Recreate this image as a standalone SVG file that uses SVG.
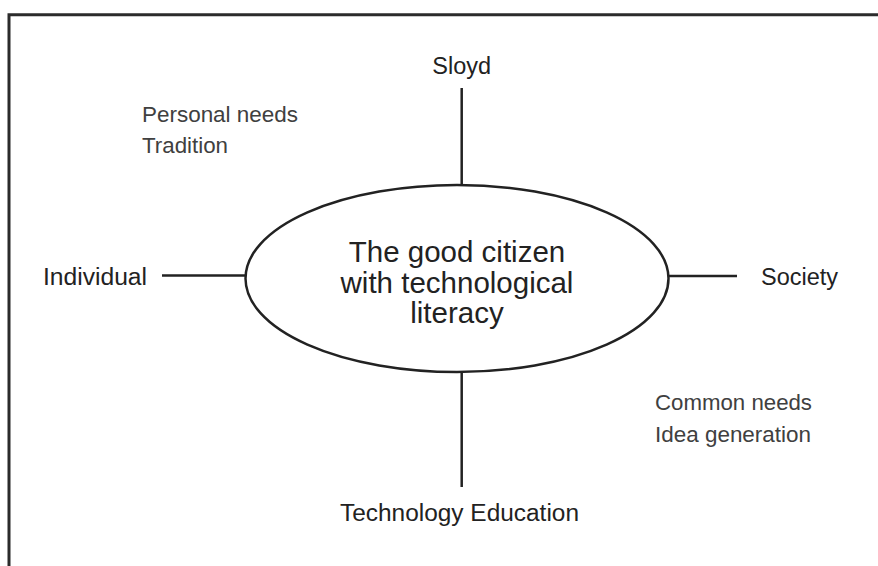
<svg xmlns="http://www.w3.org/2000/svg" width="878" height="566" viewBox="0 0 878 566">
<style>
.frame{fill:none;stroke:#2b2b2b;stroke-width:3}
.ln{fill:none;stroke:#222;stroke-width:2.5}
.lbl{font-family:"Liberation Sans",Arial,sans-serif;font-size:23.5px;fill:#222}
.note{font-family:"Liberation Sans",Arial,sans-serif;font-size:22px;fill:#404040}
.title{font-family:"Liberation Sans",Arial,sans-serif;font-size:29.5px;fill:#222;text-anchor:middle}
</style>
<rect width="878" height="566" fill="#fff"/>
<path class="frame" d="M9,566 V14.7 H878"/>
<g id="connectors">
<line class="ln" x1="461.7" y1="88" x2="461.7" y2="185"/>
<line class="ln" x1="461.7" y1="372" x2="461.7" y2="487"/>
<line class="ln" x1="162" y1="275.5" x2="246" y2="275.5"/>
<line class="ln" x1="668" y1="276" x2="737" y2="276"/>
</g>
<g id="center">
<ellipse class="ln" cx="457" cy="278.5" rx="211.5" ry="93.5" fill="#fff"/>
<text class="title" x="457" y="262">The good citizen</text>
<text class="title" x="457" y="293">with technological</text>
<text class="title" x="457" y="323">literacy</text>
</g>
<g id="sloyd"><text class="lbl" x="461.7" y="74" text-anchor="middle">Sloyd</text></g>
<g id="individual"><text class="lbl" x="43" y="285" textLength="104" lengthAdjust="spacingAndGlyphs">Individual</text></g>
<g id="society"><text class="lbl" x="761" y="285">Society</text></g>
<g id="techedu"><text class="lbl" x="340" y="521" textLength="239" lengthAdjust="spacingAndGlyphs">Technology Education</text></g>
<g id="personal"><text class="note" x="142" y="122" textLength="156" lengthAdjust="spacingAndGlyphs">Personal needs</text><text class="note" x="142" y="153" textLength="86" lengthAdjust="spacingAndGlyphs">Tradition</text></g>
<g id="common"><text class="note" x="655" y="410" textLength="157" lengthAdjust="spacingAndGlyphs">Common needs</text><text class="note" x="655" y="441.5" textLength="156" lengthAdjust="spacingAndGlyphs">Idea generation</text></g>
</svg>
